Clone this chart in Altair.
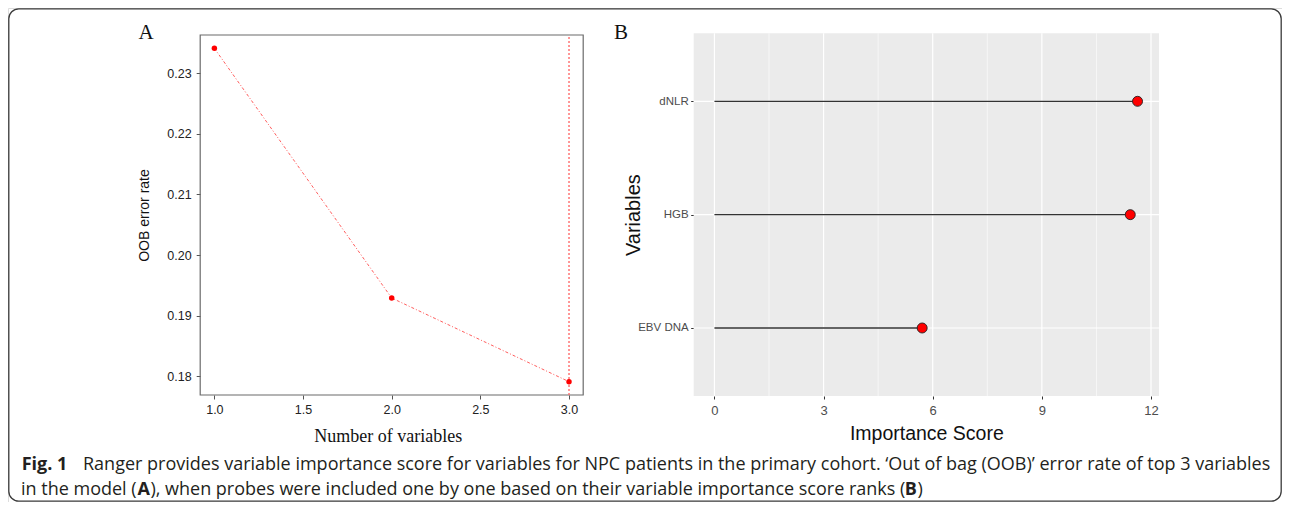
import altair as alt
import pandas as pd

# ---------------- data ----------------
# Panel A: OOB error rate vs number of variables
n_vars = [1, 2, 3]
oob_error = [0.2341, 0.1929, 0.1791]

# Panel B: variable importance scores
variables = ["dNLR", "HGB", "EBV DNA"]
importance = [11.63, 11.43, 5.71]

# tick labels
xa_ticks = [1.0, 1.5, 2.0, 2.5, 3.0]
ya_ticks = [0.18, 0.19, 0.20, 0.21, 0.22, 0.23]
xb_major = [0, 3, 6, 9, 12]
xb_minor = [1.5, 4.5, 7.5, 10.5]

# texts
panel_labels = ["A", "B"]
caption_line1 = ["Fig. 1",
                 "Ranger provides variable importance score for variables for NPC patients in the primary cohort. \u2018Out of bag (OOB)\u2019 error rate of top 3 variables"]
caption_line2 = ["in the model (", "A",
                 "), when probes were included one by one based on their variable importance score ranks (",
                 "B", ")"]

# ---------------- layout ----------------
W, H = 1274, 494
SANS = "Liberation Sans"
SERIF = "Liberation Serif"
CAP = "Open Sans"
CAP_SIZE = 18

dfA = pd.DataFrame({"n": n_vars, "oob": oob_error})
dfB = pd.DataFrame({"var": variables, "imp": importance, "zero": [0] * len(variables)})

# Panel A scales (base-R style 4% expansion)
ya_lo = min(oob_error) - 0.04 * (max(oob_error) - min(oob_error))
ya_hi = max(oob_error) + 0.04 * (max(oob_error) - min(oob_error))
xa_lo = min(n_vars) - 0.04 * (max(n_vars) - min(n_vars))
xa_hi = max(n_vars) + 0.04 * (max(n_vars) - min(n_vars))
A_L, A_R, A_T, A_B = 192.2, 575.2, 27, 387
xA = alt.Scale(domain=[xa_lo, xa_hi], range=[A_L, A_R], nice=False, zero=False)
yA = alt.Scale(domain=[ya_lo, ya_hi], range=[A_B, A_T], nice=False, zero=False)

# Panel B scales (ggplot style 5% expansion)
xb_lo = -0.57
xb_hi = 12.22
B_L, B_R, B_T, B_B = 685.7, 1151, 25.3, 388
xB = alt.Scale(domain=[xb_lo, xb_hi], range=[B_L, B_R], nice=False, zero=False)
yB = alt.Scale(type="point", domain=variables, range=[B_T, B_B], padding=0.6)

layers = []

one = pd.DataFrame({"k": [0]})

# outer rounded frame
layers.append(
    alt.Chart(one).mark_rect(fill=None, stroke="#3a3a3a", strokeWidth=1.3, cornerRadius=10).encode(
        x=alt.value(0.8), x2=alt.value(W - 0.8), y=alt.value(0.8), y2=alt.value(H - 0.8)
    )
)

# ---------- Panel A ----------
layers.append(
    alt.Chart(one).mark_rect(fill=None, stroke="#6b6b6b", strokeWidth=1.2).encode(
        x=alt.X(datum=xa_lo, scale=xA, axis=None), x2=alt.X2(datum=xa_hi),
        y=alt.Y(datum=ya_lo, scale=yA, axis=None), y2=alt.Y2(datum=ya_hi),
    )
)
best_n = n_vars[oob_error.index(min(oob_error))]
layers.append(
    alt.Chart(one).mark_rule(color="#ff6b6b", strokeWidth=1.4, strokeDash=[2, 2]).encode(
        x=alt.X(datum=best_n, scale=xA, axis=None),
        y=alt.Y(datum=ya_lo, scale=yA, axis=None), y2=alt.Y2(datum=ya_hi),
    )
)
layers.append(
    alt.Chart(dfA).mark_line(color="#ff2a2a", strokeWidth=0.9, strokeDash=[3, 2, 1, 2], opacity=0.85).encode(
        x=alt.X("n:Q", scale=xA, axis=None),
        y=alt.Y("oob:Q", scale=yA, axis=None),
    )
)
layers.append(
    alt.Chart(dfA).mark_circle(color="#ff0000", size=30, opacity=1).encode(
        x=alt.X("n:Q", scale=xA, axis=alt.Axis(
            orient="bottom", offset=A_B - H, values=xa_ticks, format=".1f",
            domain=False, grid=False, ticks=True, tickSize=4, tickColor="#555555", tickWidth=1,
            labelFont=SANS, labelFontSize=12.5, labelColor="#222222", labelPadding=4,
            title="Number of variables", titleFont=SERIF, titleFontSize=18, titleFontWeight="normal",
            titleColor="#111111", titleX=(A_L + A_R) / 2 - 4, titleY=46, titleBaseline="alphabetic",
            titleAlign="center")),
        y=alt.Y("oob:Q", scale=yA, axis=alt.Axis(
            orient="left", offset=-A_L, values=ya_ticks, format=".2f",
            domain=False, grid=False, ticks=True, tickSize=4, tickColor="#555555", tickWidth=1,
            labelFont=SANS, labelFontSize=12.5, labelColor="#222222", labelPadding=5,
            title="OOB error rate", titleFont=SANS, titleFontSize=14, titleFontWeight="normal",
            titleColor="#111111", titleX=136 - A_L, titleY=(A_T + A_B) / 2, titleAngle=-90,
            titleBaseline="middle", titleAlign="center")),
    )
)

# ---------- Panel B ----------
layers.append(
    alt.Chart(one).mark_rect(fill="#EBEBEB", stroke=None).encode(
        x=alt.X(datum=xb_lo, scale=xB, axis=None), x2=alt.X2(datum=xb_hi),
        y=alt.value(B_T), y2=alt.value(B_B),
    )
)
layers.append(
    alt.Chart(pd.DataFrame({"v": xb_minor})).mark_rule(color="#ffffff", strokeWidth=0.6).encode(
        x=alt.X("v:Q", scale=xB, axis=None), y=alt.value(B_T), y2=alt.value(B_B)
    )
)
layers.append(
    alt.Chart(pd.DataFrame({"v": xb_major})).mark_rule(color="#ffffff", strokeWidth=1.2).encode(
        x=alt.X("v:Q", scale=xB, axis=None), y=alt.value(B_T), y2=alt.value(B_B)
    )
)
layers.append(
    alt.Chart(dfB).mark_rule(color="#ffffff", strokeWidth=1.2).encode(
        y=alt.Y("var:N", scale=yB, axis=None),
        x=alt.X(datum=xb_lo, scale=xB, axis=None), x2=alt.X2(datum=xb_hi),
    )
)
layers.append(
    alt.Chart(dfB).mark_rule(color="#333333", strokeWidth=1.3).encode(
        x=alt.X("zero:Q", scale=xB, axis=None), x2="imp:Q",
        y=alt.Y("var:N", scale=yB, axis=None),
    )
)
layers.append(
    alt.Chart(dfB).mark_circle(fill="#ff0000", stroke="#222222", strokeWidth=0.9, size=100, opacity=1).encode(
        x=alt.X("imp:Q", scale=xB, axis=alt.Axis(
            orient="bottom", offset=B_B - H, values=xb_major, format="d",
            domain=False, grid=False, ticks=True, tickSize=3, tickColor="#333333", tickWidth=1,
            labelFont=SANS, labelFontSize=13, labelColor="#4D4D4D", labelPadding=5,
            title="Importance Score", titleFont=SANS, titleFontSize=19.5, titleFontWeight="normal",
            titleColor="#111111", titleX=(B_L + B_R) / 2, titleY=37, titleBaseline="middle",
            titleAlign="center")),
        y=alt.Y("var:N", scale=yB, axis=alt.Axis(
            orient="left", offset=-B_L, domain=False, grid=False, ticks=True, tickSize=3,
            tickColor="#333333", tickWidth=1,
            labelFont=SANS, labelFontSize=11.5, labelColor="#4D4D4D", labelPadding=2.5,
            title="Variables", titleFont=SANS, titleFontSize=20, titleFontWeight="normal",
            titleColor="#111111", titleX=625 - B_L, titleY=(B_T + B_B) / 2, titleAngle=-90,
            titleBaseline="middle", titleAlign="center")),
    )
)

# ---------- panel letters ----------
for lab, px in zip(panel_labels, [138, 613]):
    layers.append(
        alt.Chart(pd.DataFrame({"t": [lab]})).mark_text(
            font=SERIF, fontSize=21, color="#111111", align="center", baseline="alphabetic"
        ).encode(text="t:N", x=alt.value(px), y=alt.value(31))
    )

# ---------- caption ----------
cap1_x = [13.7, 75]
cap1_w = ["bold", "normal"]
for t, px, w in zip(caption_line1, cap1_x, cap1_w):
    layers.append(
        alt.Chart(pd.DataFrame({"t": [t]})).mark_text(
            font=CAP, fontSize=CAP_SIZE, fontWeight=w, color="#231f20", align="left", baseline="alphabetic"
        ).encode(text="t:N", x=alt.value(px), y=alt.value(462))
    )
cap2_x = [13, 129.4, 142.4, 896.8, 909.6]
cap2_w = ["normal", "bold", "normal", "bold", "normal"]
for t, px, w in zip(caption_line2, cap2_x, cap2_w):
    layers.append(
        alt.Chart(pd.DataFrame({"t": [t]})).mark_text(
            font=CAP, fontSize=CAP_SIZE, fontWeight=w, color="#231f20", align="left", baseline="alphabetic"
        ).encode(text="t:N", x=alt.value(px), y=alt.value(487))
    )

chart = alt.layer(*layers).resolve_scale(x="independent", y="independent").properties(
    width=W, height=H, autosize=alt.AutoSizeParams(type="none"), padding=0
).configure_view(stroke=None).configure(background="white")

chart.save("out.html", embed_options={"renderer": "svg", "actions": False})
